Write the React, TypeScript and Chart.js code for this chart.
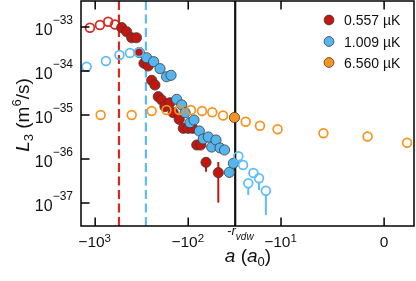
import React, { useEffect, useRef } from "react";
import { Chart, registerables } from "chart.js";
Chart.register(...registerables);

// ---- data: scattering length a (a0) and L3 (m^6/s) ----
const R_VDW = 31.26;

const redOpenA = [-1138, -889, -724, -613];
const redOpenL = [9.6e-34, 1.11e-33, 1.32e-33, 1.14e-33];
const redA = [-519, -459, -405, -360, -336, -299, -269, -247, -228, -210, -193, -178, -157, -145, -125, -113, -100, -89.5, -81, -73.5, -64.4, -47.5];
const redL = [9.7e-34, 7.8e-34, 5.7e-34, 5.7e-34, 2.63e-34, 1.5e-34, 1.3e-34, 6.15e-35, 4.81e-35, 2.61e-35, 2.19e-35, 1.55e-35, 1.9e-35, 1.13e-35, 7.98e-36, 4.99e-36, 4.99e-36, 4.99e-36, 2.08e-36, 2.08e-36, 8.4e-37, 4.89e-37];
const redErrA = [-64.4, -47.5];
const redErrLo = [5.14e-37, 1.02e-37];
const redErrHi = [1.05e-36, 8.55e-37];

const blueOpenLeftA = [-1236, -766, -548, -423, -338];
const blueOpenLeftL = [1.25e-34, 1.69e-34, 2.31e-34, 2.57e-34, 2.66e-34];
const blueA = [-280, -235, -201, -171, -153, -133, -117.5, -108, -95.7, -86.7, -76, -68.9, -60.8, -56, -50.3, -45.5, -40.7, -36.1, -32.7];
const blueL = [2.0e-34, 1.63e-34, 1.13e-34, 7.4e-35, 7.98e-35, 2.27e-35, 1.69e-35, 1.13e-35, 6.68e-36, 7.69e-36, 4.33e-36, 2.85e-36, 3.16e-36, 1.87e-36, 2.7e-36, 1.78e-36, 1.6e-36, 4.99e-37, 7.98e-37];
const blueErrA = [-36.1];
const blueErrLo = [3.7e-37];
const blueOpenRightA = [-28.9, -25.7, -19.9, -22.6, -17.3, -14.6];
const blueOpenRightL = [1.15e-36, 7.31e-37, 4.81e-37, 2.8e-37, 3.64e-37, 1.9e-37];
const blueOpenErrA = [-22.6, -17.3, -14.6];
const blueOpenErrL = [2.8e-37, 3.64e-37, 1.9e-37];
const blueOpenErrLo = [1.52e-37, 1.97e-37, 5.3e-38];

const orangeOpenA = [-873, -405, -247, -171, -125, -93.4, -71.1, -55.1, -42.2, -24.1, -16.9, -10.9, -3.35, -0.66, 0.94];
const orangeOpenL = [1.0e-35, 1.0e-35, 1.23e-35, 1.3e-35, 1.3e-35, 1.3e-35, 1.23e-35, 1.15e-35, 9.75e-36, 7.05e-36, 5.71e-36, 4.73e-36, 3.84e-36, 3.25e-36, 2.34e-36];
const orangeA = [-31.8];
const orangeL = [8.77e-36];

const redDashA = -555;
const blueDashA = -285;

const legendLabels = ["0.557 µK", "1.009 µK", "6.560 µK"];
const xTickA = [-1000, -100, -10, 0];
const xTickExp = ["3", "2", "1", ""];
const yTickExp = [-33, -34, -35, -36, -37];

const A_MIN = -1420;
const A_MAX = 1.27;
const L_MIN = Math.pow(10, -37.523);
const L_MAX = Math.pow(10, -32.409);

// ---- styles ----
const RED = "#c3160e";
const RED_OPEN = "#d42a1f";
const BLUE = "#55b5ee";
const BLUE_OPEN = "#5bbcf7";
const ORANGE = "#f7941d";
const EDGE = "#3c3c3c";
const FONT = '"Liberation Sans", Arial, Helvetica, sans-serif';

// symmetric-log style transform of the scattering length
const u = (a: number) => Math.asinh(a / 1.57) / Math.LN10;
const pts = (xs: number[], ys: number[]) => xs.map((a, i) => ({ x: u(a), y: ys[i] }));

type Seg = { t: string; size: number; dy?: number; italic?: boolean };
function rich(ctx: CanvasRenderingContext2D, segs: Seg[], x: number, y: number, align: "left" | "center" | "right") {
  const f = (s: Seg) => `${s.italic ? "italic " : ""}${s.size}px ${FONT}`;
  let w = 0;
  for (const s of segs) {
    ctx.font = f(s);
    w += ctx.measureText(s.t).width;
  }
  let cx = align === "left" ? x : align === "center" ? x - w / 2 : x - w;
  ctx.textAlign = "left";
  ctx.textBaseline = "alphabetic";
  for (const s of segs) {
    ctx.font = f(s);
    ctx.fillText(s.t, cx, y + (s.dy || 0));
    cx += ctx.measureText(s.t).width;
  }
}

const deco = {
  id: "deco",
  beforeDatasetsDraw(chart: any) {
    const { ctx, chartArea: ca, scales } = chart;
    const xs = scales.x;
    const ys = scales.y;
    ctx.save();
    ctx.lineWidth = 2.2;
    ctx.setLineDash([9, 4.5]);
    const vline = (a: number, col: string) => {
      const px = xs.getPixelForValue(u(a));
      ctx.strokeStyle = col;
      ctx.beginPath();
      ctx.moveTo(px, ca.top);
      ctx.lineTo(px, ca.bottom);
      ctx.stroke();
    };
    vline(redDashA, RED_OPEN);
    vline(blueDashA, BLUE_OPEN);
    ctx.setLineDash([]);
    ctx.lineWidth = 2.2;
    vline(-R_VDW, "#111111");
    ctx.lineWidth = 2;
    const bar = (a: number, lo: number, hi: number, col: string) => {
      const px = xs.getPixelForValue(u(a));
      ctx.strokeStyle = col;
      ctx.beginPath();
      ctx.moveTo(px, ys.getPixelForValue(hi));
      ctx.lineTo(px, ys.getPixelForValue(lo));
      ctx.stroke();
    };
    redErrA.forEach((a, i) => bar(a, redErrLo[i], redErrHi[i], RED));
    blueErrA.forEach((a, i) => bar(a, blueErrLo[i], blueL[blueA.indexOf(a)], BLUE));
    blueOpenErrA.forEach((a, i) => {
      const px = xs.getPixelForValue(u(a));
      const py = ys.getPixelForValue(blueOpenErrL[i]);
      ctx.strokeStyle = BLUE_OPEN;
      ctx.beginPath();
      ctx.moveTo(px, py + 4.8);
      ctx.lineTo(px, ys.getPixelForValue(blueOpenErrLo[i]));
      ctx.stroke();
    });
    ctx.restore();
  },
  afterDraw(chart: any) {
    const { ctx, chartArea: ca, scales } = chart;
    const xs = scales.x;
    const ys = scales.y;
    ctx.save();
    ctx.strokeStyle = "#000";
    ctx.fillStyle = "#111";
    ctx.lineWidth = 1.5;
    ctx.strokeRect(ca.left, ca.top, ca.right - ca.left, ca.bottom - ca.top);
    const TL = 8.5;
    ctx.beginPath();
    xTickA.forEach((a) => {
      const px = xs.getPixelForValue(u(a));
      ctx.moveTo(px, ca.top);
      ctx.lineTo(px, ca.top + TL);
      ctx.moveTo(px, ca.bottom);
      ctx.lineTo(px, ca.bottom - TL);
    });
    yTickExp.forEach((e) => {
      const py = ys.getPixelForValue(Math.pow(10, e));
      ctx.moveTo(ca.left, py);
      ctx.lineTo(ca.left + TL, py);
    });
    ctx.stroke();

    xTickA.forEach((a, i) => {
      const px = xs.getPixelForValue(u(a));
      if (a === 0) rich(ctx, [{ t: "0", size: 15.5 }], px, 247, "center");
      else rich(ctx, [{ t: "−10", size: 15.5 }, { t: xTickExp[i], size: 11.5, dy: -5 }], px - 0.5, 247, "center");
    });
    const rpx = xs.getPixelForValue(u(-R_VDW));
    rich(ctx, [{ t: "-", size: 13 }, { t: "r", size: 13, italic: true }, { t: "vdw", size: 10, italic: true, dy: 4.5 }], rpx - 8, 235, "left");

    yTickExp.forEach((e) => {
      const py = ys.getPixelForValue(Math.pow(10, e));
      rich(ctx, [{ t: "10", size: 16 }, { t: "−" + String(-e), size: 12, dy: -11.5 }], 73, py + 8.3, "right");
    });

    rich(ctx, [
      { t: "a", size: 19, italic: true },
      { t: " (", size: 19 },
      { t: "a", size: 19, italic: true },
      { t: "0", size: 13, dy: 4 },
      { t: ")", size: 19 },
    ], 248, 262, "center");
    ctx.save();
    ctx.translate(29, 115);
    ctx.rotate(-Math.PI / 2);
    rich(ctx, [
      { t: "L", size: 19, italic: true },
      { t: "3", size: 13, dy: 4 },
      { t: " (m", size: 19 },
      { t: "6", size: 13, dy: -8 },
      { t: "/s)", size: 19 },
    ], 0, 0, "center");
    ctx.restore();

    const cols = [RED, BLUE, ORANGE];
    const ly = [20, 41.5, 62.5];
    cols.forEach((c, i) => {
      ctx.beginPath();
      ctx.arc(329, ly[i], 4.9, 0, Math.PI * 2);
      ctx.fillStyle = c;
      ctx.fill();
      ctx.lineWidth = 0.8;
      ctx.strokeStyle = EDGE;
      ctx.stroke();
      ctx.fillStyle = "#111";
      rich(ctx, [{ t: legendLabels[i], size: 14 }], 344, ly[i] + 5, "left");
    });
    ctx.restore();
  },
};

export default function App() {
  const ref = useRef<HTMLCanvasElement>(null);
  useEffect(() => {
    document.body.style.margin = "0";
    const open = (data: any, col: string, order: number) => ({
      data,
      order,
      pointRadius: 4.4,
      pointBorderWidth: 1.7,
      pointBackgroundColor: "rgba(0,0,0,0)",
      pointBorderColor: col,
      showLine: false,
    });
    const filled = (data: any, col: string, order: number) => ({
      data,
      order,
      pointRadius: 5.1,
      pointBorderWidth: 0.8,
      pointBackgroundColor: col,
      pointBorderColor: EDGE,
      showLine: false,
    });
    const chart = new Chart(ref.current!, {
      type: "scatter",
      data: {
        datasets: [
          open(pts(orangeOpenA, orangeOpenL), ORANGE, 0),
          filled(pts(orangeA, orangeL), ORANGE, 1),
          open(pts(blueOpenLeftA, blueOpenLeftL), BLUE_OPEN, 2),
          open(pts(blueOpenRightA, blueOpenRightL), BLUE_OPEN, 3),
          filled(pts(blueA, blueL), BLUE, 4),
          filled(pts(redA, redL), RED, 5),
          open(pts(redOpenA, redOpenL), RED_OPEN, 6),
        ] as any,
      },
      options: {
        responsive: false,
        animation: false,
        devicePixelRatio: 1,
        layout: { autoPadding: false, padding: { left: 81, right: 2, top: 1, bottom: 55 } },
        plugins: { legend: { display: false }, tooltip: { enabled: false } },
        scales: {
          x: { type: "linear", display: false, min: u(A_MIN), max: u(A_MAX) },
          y: { type: "logarithmic", display: false, min: L_MIN, max: L_MAX },
        },
      },
      plugins: [deco],
    });
    return () => chart.destroy();
  }, []);
  return <canvas ref={ref} width={416} height={281} style={{ display: "block" }} />;
}
